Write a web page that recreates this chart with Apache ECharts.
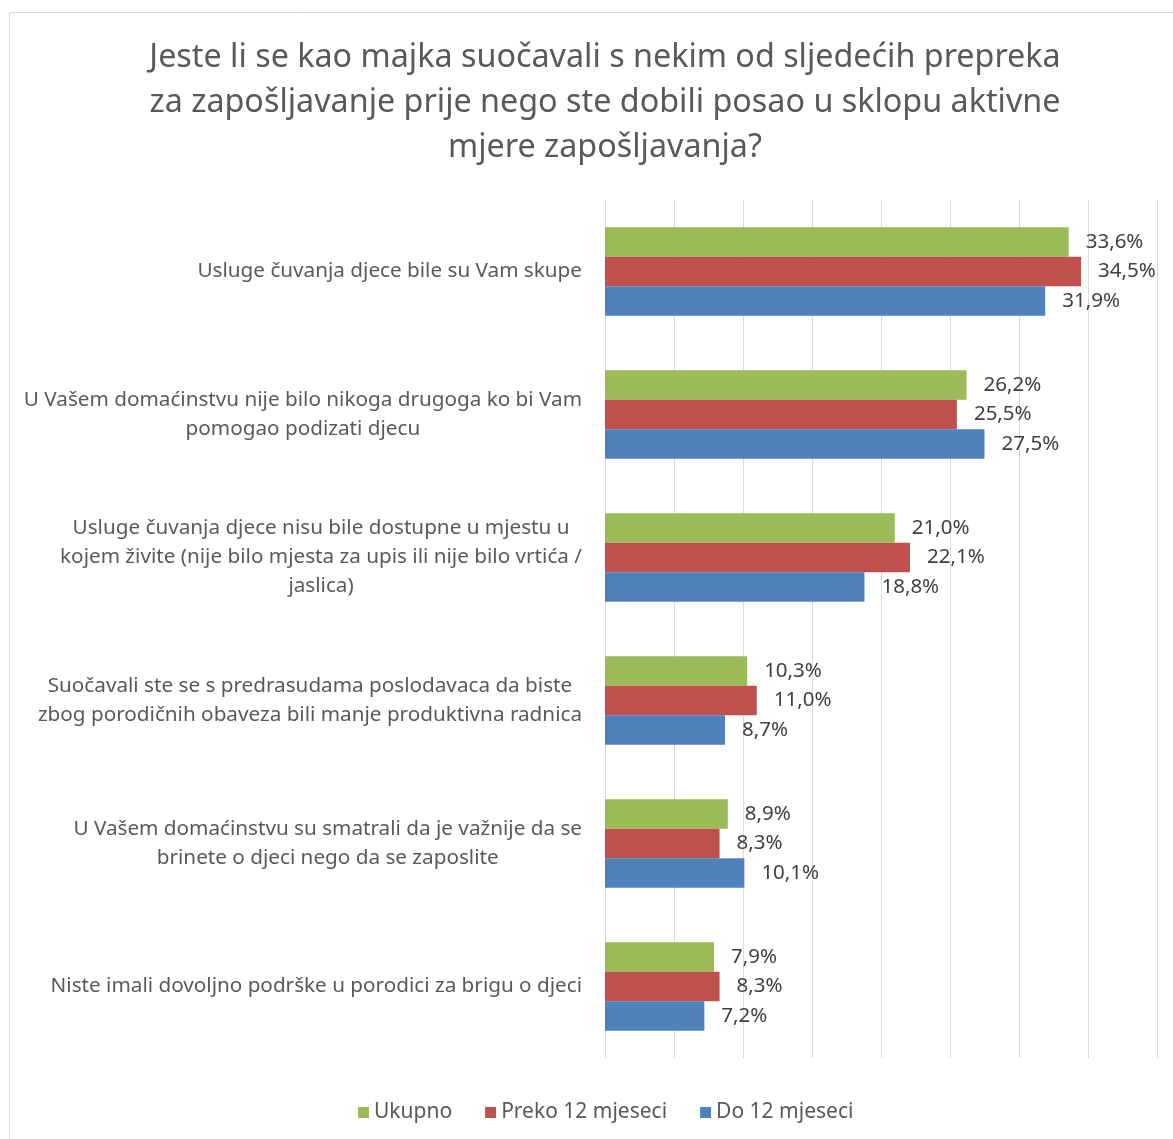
<!DOCTYPE html>
<html>
<head>
<meta charset="utf-8">
<script src="https://cdn.jsdelivr.net/npm/echarts@6/dist/echarts.min.js"></script>
<style>
html,body{margin:0;padding:0;background:#fff;}
#c{width:1173px;height:1139px;}
</style>
</head>
<body>
<div id="c"></div>
<script>
const titleText = 'Jeste li se kao majka suočavali s nekim od sljedećih prepreka\nza zapošljavanje prije nego ste dobili posao u sklopu aktivne\nmjere zapošljavanja?';
const categories = [
  'Usluge čuvanja djece bile su Vam skupe',
  'U Vašem domaćinstvu nije bilo nikoga drugoga ko bi Vam\npomogao podizati djecu',
  'Usluge čuvanja djece nisu bile dostupne u mjestu u\nkojem živite (nije bilo mjesta za upis ili nije bilo vrtića /\njaslica)',
  'Suočavali ste se s predrasudama poslodavaca da biste\nzbog porodičnih obaveza bili manje produktivna radnica',
  'U Vašem domaćinstvu su smatrali da je važnije da se\nbrinete o djeci nego da se zaposlite',
  'Niste imali dovoljno podrške u porodici za brigu o djeci'
];
const seriesNames = ['Ukupno', 'Preko 12 mjeseci', 'Do 12 mjeseci'];
const ukupno = [33.6, 26.2, 21.0, 10.3, 8.9, 7.9];
const preko12 = [34.5, 25.5, 22.1, 11.0, 8.3, 8.3];
const do12 = [31.9, 27.5, 18.8, 8.7, 10.1, 7.2];
const colors = ['#9BBB59', '#C0504D', '#4F81BD'];

const FONT = 'Noto Sans';
const chart = echarts.init(document.getElementById('c'), null, {renderer: 'canvas'});

function fmt(p) { return p.value.toFixed(1).replace('.', ',') + '%'; }

const mk = (name, data, color) => ({
  name: name,
  type: 'bar',
  data: data,
  barGap: '0%',
  barCategoryGap: '38%',
  itemStyle: {color: color},
  label: {
    show: true, position: 'right', distance: 17,
    formatter: fmt, fontFamily: FONT, fontSize: 20.5, color: '#404040'
  }
});

chart.setOption({
  animation: false,
  color: colors,
  graphic: [{
    type: 'rect', left: 7, top: 10, silent: true,
    shape: {width: 1200, height: 1200},
    style: {fill: 'none', stroke: '#d9d9d9', lineWidth: 1}
  }],
  title: {
    text: titleText,
    left: 600, top: 30, textAlign: 'center',
    textStyle: {fontFamily: FONT, fontSize: 32.3, fontWeight: 'normal', color: '#595959', lineHeight: 45}
  },
  legend: {
    data: seriesNames,
    left: 353, top: 1097,
    icon: 'rect', itemWidth: 11, itemHeight: 11, itemGap: 33,
    textStyle: {fontFamily: FONT, fontSize: 21, color: '#595959'}
  },
  grid: {left: 605, right: 16, top: 200, height: 858, containLabel: false},
  xAxis: {
    type: 'value', min: 0, max: 40, interval: 5,
    axisLabel: {show: false}, axisLine: {show: false}, axisTick: {show: false},
    splitLine: {show: true, lineStyle: {color: '#d9d9d9', width: 1}}
  },
  yAxis: {
    type: 'category', data: categories, inverse: true,
    axisLine: {show: false}, axisTick: {show: false},
    axisLabel: {
      margin: 23, align: 'right',
      formatter: v => v.split('\n').map(l => '{c|' + l + '}').join('\n'),
      rich: {c: {align: 'center', fontFamily: FONT, fontSize: 20.7, lineHeight: 29, color: '#595959'}}
    }
  },
  series: [mk(seriesNames[0], ukupno, colors[0]), mk(seriesNames[1], preko12, colors[1]), mk(seriesNames[2], do12, colors[2])]
});
</script>
</body>
</html>
